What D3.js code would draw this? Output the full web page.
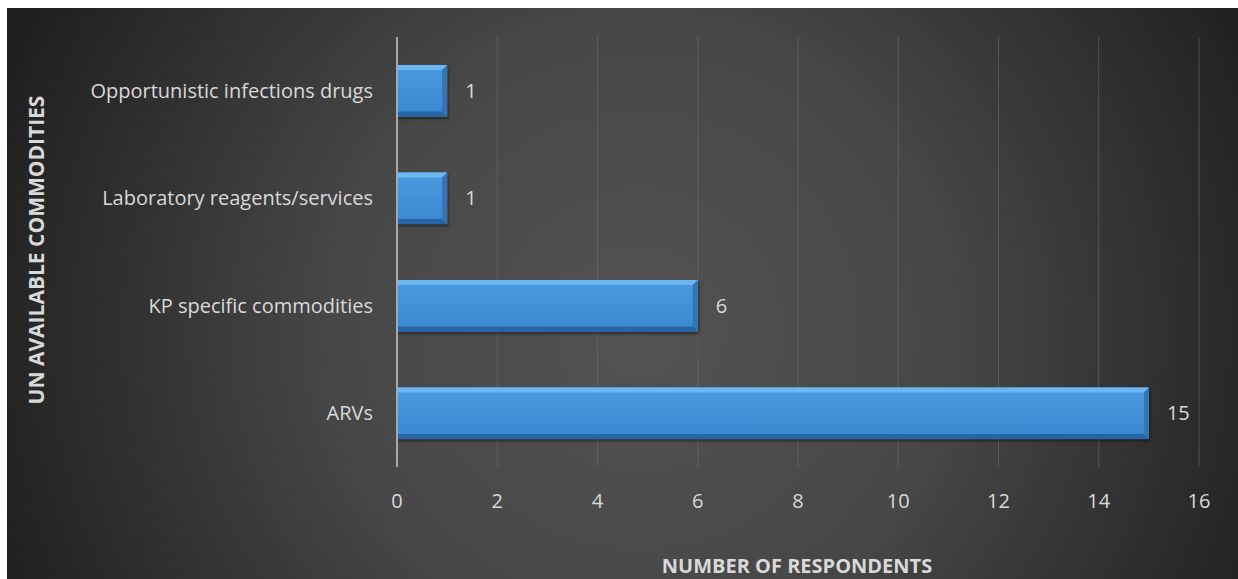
<!DOCTYPE html>
<html><head><meta charset="utf-8">
<script src="https://cdn.jsdelivr.net/npm/d3@7"></script>
<style>body{margin:0;background:#fff;}svg{display:block;}</style>
</head><body>
<svg id="c" width="1238" height="579"></svg>
<script>
const categories = ["Opportunistic infections drugs","Laboratory reagents/services","KP specific commodities","ARVs"];
const values = [1, 1, 6, 15];
const xTicks = [0,2,4,6,8,10,12,14,16];
const xTitle = "NUMBER OF RESPONDENTS";
const yTitle = "UN AVAILABLE COMMODITIES";

const svg = d3.select("#c");
const defs = svg.append("defs");
const rg = defs.append("radialGradient").attr("id","bg").attr("gradientUnits","userSpaceOnUse")
  .attr("cx",640).attr("cy",330).attr("r",680);
rg.append("stop").attr("offset",0).attr("stop-color","#535353");
rg.append("stop").attr("offset",0.45).attr("stop-color","#474747");
rg.append("stop").attr("offset",1).attr("stop-color","#202020");
const sh = defs.append("filter").attr("id","sh").attr("x","-5%").attr("y","-20%").attr("width","115%").attr("height","150%");
sh.append("feDropShadow").attr("dx",1).attr("dy",2).attr("stdDeviation",1.5).attr("flood-color","#000").attr("flood-opacity",0.5);
const fg = defs.append("linearGradient").attr("id","face").attr("x1",0).attr("y1",0).attr("x2",0).attr("y2",1);
fg.append("stop").attr("offset",0).attr("stop-color","#4a9ae0");
fg.append("stop").attr("offset",1).attr("stop-color","#3b88cf");

svg.append("rect").attr("x",7).attr("y",8).attr("width",1231).attr("height",571).attr("fill","url(#bg)");

const x = d3.scaleLinear().domain([0,16]).range([397,1199]);
const y = d3.scaleBand().domain(categories).range([37,467]).paddingInner(0.52).paddingOuter(0.26);
const font = "'Open Sans', sans-serif";
const txt = "#d9d9d9";

// gridlines
svg.append("g").selectAll("line").data(xTicks.filter(t=>t>0)).join("line")
  .attr("x1",d=>x(d)).attr("x2",d=>x(d)).attr("y1",37).attr("y2",467)
  .attr("stroke","#6a6a6a").attr("stroke-opacity",0.6).attr("stroke-width",1);

// tick labels
svg.append("g").selectAll("text").data(xTicks).join("text")
  .attr("x",d=>x(d)).attr("y",501).attr("dy","0.35em").attr("text-anchor","middle")
  .attr("font-family",font).attr("font-size",20).attr("fill",txt).text(d=>d);

// bars
const bh = y.bandwidth(), bv = 5;
const bars = svg.append("g").selectAll("g").data(categories).join("g").attr("filter","url(#sh)");
bars.each(function(c,i){
  const g = d3.select(this);
  const x0 = x(0), x1 = x(values[i]), y0 = y(c), y1 = y0 + bh;
  g.append("rect").attr("x",x0).attr("y",y0).attr("width",x1-x0).attr("height",bh).attr("fill","url(#face)");
  g.append("path").attr("d",`M${x0},${y0}L${x1},${y0}L${x1-bv},${y0+bv}L${x0},${y0+bv}Z`).attr("fill","#6cb6f2");
  g.append("path").attr("d",`M${x1},${y0}L${x1},${y1}L${x1-bv},${y1-bv}L${x1-bv},${y0+bv}Z`).attr("fill","#2f77bd");
  g.append("path").attr("d",`M${x0},${y1}L${x1},${y1}L${x1-bv},${y1-bv}L${x0},${y1-bv}Z`).attr("fill","#2866a6");
});

// axis line at zero
svg.append("line").attr("x1",x(0)).attr("x2",x(0)).attr("y1",37).attr("y2",467)
  .attr("stroke","#a8a8a8").attr("stroke-width",2);

// category labels
svg.append("g").selectAll("text").data(categories).join("text")
  .attr("x",373).attr("y",d=>y(d)+bh/2).attr("dy","0.35em").attr("text-anchor","end")
  .attr("font-family",font).attr("font-size",20).attr("fill",txt).text(d=>d);

// data labels
svg.append("g").selectAll("text").data(categories).join("text")
  .attr("x",(d,i)=>x(values[i])+18).attr("y",d=>y(d)+bh/2).attr("dy","0.35em")
  .attr("font-family",font).attr("font-size",20).attr("fill",txt).text((d,i)=>values[i]);

// axis titles
svg.append("text").attr("x",797).attr("y",573).attr("text-anchor","middle")
  .attr("font-family",font).attr("font-weight","bold").attr("font-size",20).attr("fill",txt).text(xTitle);
svg.append("text").attr("transform","translate(44,250) rotate(-90)").attr("text-anchor","middle")
  .attr("font-family",font).attr("font-weight","bold").attr("font-size",21).attr("fill",txt).text(yTitle);
</script>
</body></html>
